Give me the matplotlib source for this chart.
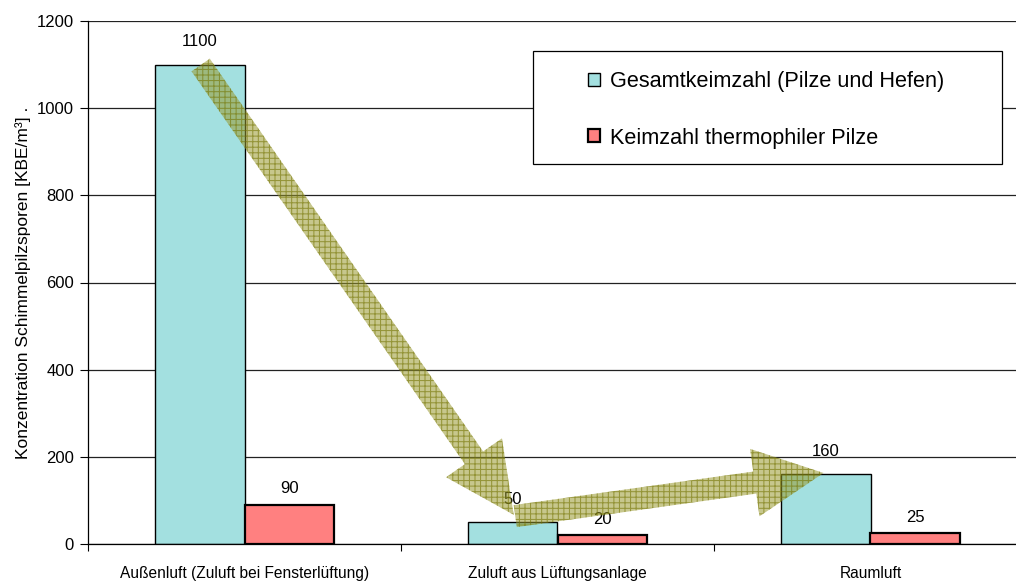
import matplotlib.pyplot as plt
from matplotlib.patches import Rectangle
import numpy as np

plt.rcParams['font.family'] = ['Liberation Sans', 'DejaVu Sans']
plt.rcParams['hatch.linewidth'] = 0.75

# Data
categories = ["Außenluft (Zuluft bei Fensterlüftung)", "Zuluft aus Lüftungsanlage", "Raumluft"]
gesamt = [1100, 50, 160]
thermophil = [90, 20, 25]
series_labels = ["Gesamtkeimzahl (Pilze und Hefen)", "Keimzahl thermophiler Pilze"]

# Arrow path points (category index, value)
arrow1 = [(-0.14, 1099), (0.86, 67)]
arrow2 = [(0.865, 64), (1.85, 163)]

W, H = 1016, 581
fig = plt.figure(figsize=(W / 100, H / 100), dpi=100)
ax = fig.add_axes([88 / W, 37 / H, 939 / W, 523 / H])

x = np.arange(len(categories))
bar_width = 0.2875

# Bars
b1 = ax.bar(x - bar_width / 2, gesamt, bar_width, color="#a3e0e0",
            edgecolor="black", linewidth=1.0, label=series_labels[0], zorder=2)
b2 = ax.bar(x + bar_width / 2, thermophil, bar_width, color="#ff8080",
            edgecolor="black", linewidth=1.6, label=series_labels[1], zorder=2)

ax.bar_label(b1, padding=11, fontsize=12, zorder=3)
ax.bar_label(b2, padding=6, fontsize=12, zorder=3)

# Axis setup
ax.set_xlim(-0.5, 2.5)
ax.set_ylim(0, 1200)
ax.set_yticks(np.arange(0, 1201, 200))
ax.tick_params(axis='y', labelsize=12, length=6, width=0.8, pad=4)
ax.set_xticks(x)
ax.set_xticklabels(categories, fontsize=11.2)
ax.tick_params(axis='x', length=0, pad=16)
ax.set_xticks([-0.5, 0.5, 1.5], minor=True)
ax.tick_params(axis='x', which='minor', length=5, width=0.8)
ax.yaxis.grid(True, color="#222222", linewidth=0.9, zorder=0)
ax.set_axisbelow(True)
for side in ["top", "right"]:
    ax.spines[side].set_visible(False)
ax.spines["left"].set_linewidth(0.9)
ax.spines["bottom"].set_linewidth(0.9)

ax.set_ylabel("Konzentration Schimmelpilzsporen [KBE/m³] .", fontsize=12.5, labelpad=4)

# Hatched arrows: pale translucent fill plus a darker cross hatch on top
arrow_style = "simple,head_width=4.9,head_length=5.0,tail_width=1.6"
for start, end in (arrow1, arrow2):
    ax.annotate("", xy=end, xytext=start,
                arrowprops=dict(arrowstyle=arrow_style, mutation_scale=10,
                                shrinkA=0, shrinkB=0,
                                facecolor=(0.6, 0.6, 0.19, 0.55), linewidth=0),
                zorder=4)
    ax.annotate("", xy=end, xytext=start,
                arrowprops=dict(arrowstyle=arrow_style, mutation_scale=10,
                                shrinkA=0, shrinkB=0, facecolor="none",
                                edgecolor=(0.45, 0.45, 0.0, 0.6), hatch="+++",
                                linewidth=0),
                zorder=4)

# Legend box drawn by hand so the padding matches
frame = Rectangle((533 / W, 1 - 164 / H), 469 / W, 113 / H, transform=fig.transFigure,
                  facecolor="white", edgecolor="black", linewidth=0.9, zorder=5)
fig.patches.append(frame)
leg = ax.legend(loc="center left", bbox_to_anchor=(588 / W, 1 - 110 / H),
                bbox_transform=fig.transFigure, borderaxespad=0, borderpad=0,
                fontsize=15.6, frameon=False, handlelength=0.55, handleheight=0.55,
                handletextpad=0.45, labelspacing=1.62)
leg.set_zorder(6)
fig.legends.append(leg)
ax.get_legend().remove()

fig.savefig("out.png", dpi=100)
